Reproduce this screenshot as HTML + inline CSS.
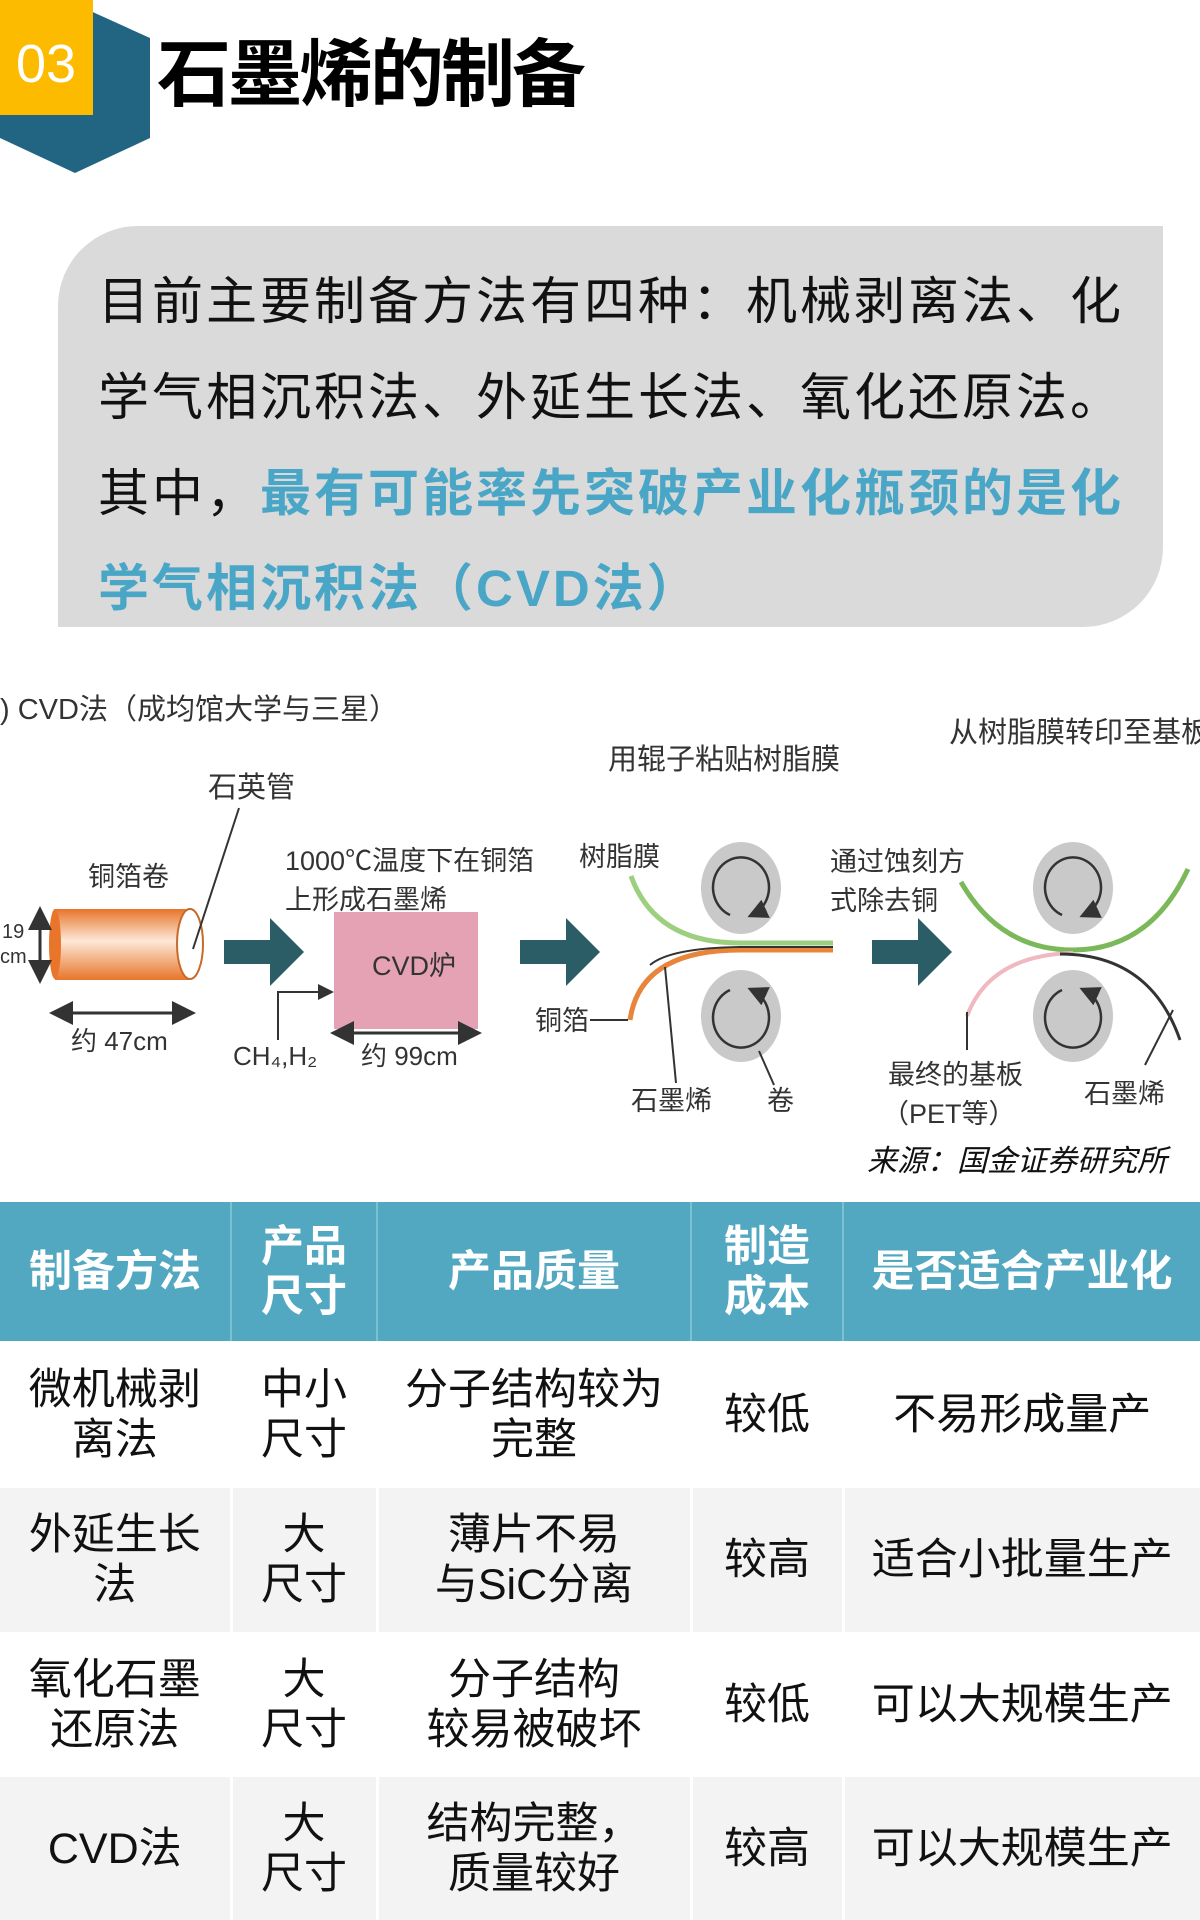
<!DOCTYPE html>
<html><head><meta charset="utf-8"><style>
*{margin:0;padding:0;box-sizing:border-box}
body{width:1200px;height:1920px;background:#fff;position:relative;overflow:hidden;font-family:"Liberation Sans","Noto Sans CJK SC",sans-serif}
.abs{position:absolute}
.title{left:157px;top:30px;font-size:74px;font-weight:bold;color:#000;line-height:90px;letter-spacing:-3px}
.box{left:58px;top:226px;width:1105px;height:401px;background:#dadada;border-radius:80px 0 80px 0}
.line{position:absolute;left:98px;font-size:51px;line-height:60px;color:#111;white-space:nowrap;letter-spacing:3px}
.hl{color:#4aa6c6;font-weight:bold}
table{position:absolute;left:0;top:1202px;width:1200px;border-collapse:collapse}
td{text-align:center;vertical-align:middle;font-size:43px;line-height:50px;color:#111;border-left:3px solid #fff}
td:first-child{border-left:none}
tr.h td{background:#52a7c1;color:#fff;font-weight:bold;height:139px;border-left:2px solid #7cc0d4}
tr.h td:first-child{border-left:none}
tr.g td{background:#f3f3f3}
</style></head><body>
<svg class="abs" style="left:0;top:0" width="160" height="180"><polygon points="0,38 75,4 150,38 150,138 75,173 0,138" fill="#226582"/><rect x="0" y="0" width="93" height="115" fill="#fdbb00"/><text x="46" y="82" font-size="54" fill="#fff" text-anchor="middle" font-family="Liberation Sans,sans-serif">03</text></svg>
<div class="abs title">石墨烯的制备</div>
<div class="abs box"></div>
<div class="line" style="top:272px">目前主要制备方法有四种：机械剥离法、化</div>
<div class="line" style="top:368px">学气相沉积法、外延生长法、氧化还原法。</div>
<div class="line" style="top:464px">其中，<span class="hl">最有可能率先突破产业化瓶颈的是化</span></div>
<div class="line" style="top:559px"><span class="hl">学气相沉积法（CVD法）</span></div>

<svg class="abs" style="left:0;top:0" width="1200" height="1200" font-family="Liberation Sans,Noto Sans CJK SC,sans-serif">
<defs>
<linearGradient id="cu" x1="0" y1="0" x2="0" y2="1"><stop offset="0" stop-color="#e8752a"/><stop offset="0.45" stop-color="#fde8d8"/><stop offset="1" stop-color="#e8752a"/></linearGradient>
<marker id="ah" markerWidth="8" markerHeight="8" refX="6" refY="4" orient="auto-start-reverse"><path d="M0,0 L8,4 L0,8 z" fill="#333"/></marker>
</defs>
<g fill="#333" font-size="29">
<text x="0" y="719">) CVD法（成均馆大学与三星）</text>
<text x="608" y="769">用辊子粘贴树脂膜</text>
<text x="949" y="742">从树脂膜转印至基板</text>
<text x="208" y="797">石英管</text>
<text x="88" y="886" font-size="27">铜箔卷</text>
<text x="2" y="938" font-size="20">19</text><text x="0" y="963" font-size="20">cm</text>
<text x="71" y="1050" font-size="26">约 47cm</text>
<text x="285" y="870" font-size="27">1000℃温度下在铜箔</text>
<text x="285" y="909" font-size="27">上形成石墨烯</text>
<text x="233" y="1065" font-size="26">CH₄,H₂</text>
<text x="361" y="1065" font-size="26">约 99cm</text>
<text x="579" y="866" font-size="27">树脂膜</text>
<text x="535" y="1030" font-size="27">铜箔</text>
<text x="631" y="1110" font-size="27">石墨烯</text>
<text x="767" y="1110" font-size="27">卷</text>
<text x="830" y="871" font-size="27">通过蚀刻方</text>
<text x="830" y="910" font-size="27">式除去铜</text>
<text x="888" y="1084" font-size="27">最终的基板</text>
<text x="882" y="1123" font-size="27">（PET等）</text>
<text x="1084" y="1103" font-size="27">石墨烯</text>
</g>
<text x="867" y="1171" font-size="30" font-style="italic" fill="#111">来源：国金证券研究所</text>
<rect x="55" y="909" width="135" height="71" fill="url(#cu)"/>
<ellipse cx="55" cy="944" rx="6" ry="35" fill="#e8752a"/>
<ellipse cx="190" cy="944" rx="13" ry="35" fill="#fff" stroke="#c86a2a" stroke-width="2"/>
<line x1="239" y1="808" x2="193" y2="949" stroke="#333" stroke-width="2"/>
<line x1="40" y1="912" x2="40" y2="978" stroke="#333" stroke-width="3" marker-start="url(#ah)" marker-end="url(#ah)"/>
<line x1="55" y1="1013" x2="190" y2="1013" stroke="#333" stroke-width="3" marker-start="url(#ah)" marker-end="url(#ah)"/>
<g fill="#2a5d66">
<polygon points="224,940 270,940 270,918 304,952 270,986 270,964 224,964"/>
<polygon points="520,940 566,940 566,918 600,952 566,986 566,964 520,964"/>
<polygon points="872,940 918,940 918,918 952,952 918,986 918,964 872,964"/>
</g>
<rect x="334" y="912" width="144" height="117" fill="#e5a2b5"/>
<text x="372" y="975" font-size="27" fill="#333">CVD炉</text>
<polyline points="278,1040 278,992 330,992" fill="none" stroke="#333" stroke-width="2" marker-end="url(#ah)"/>
<line x1="336" y1="1033" x2="476" y2="1033" stroke="#333" stroke-width="3" marker-start="url(#ah)" marker-end="url(#ah)"/>
<g fill="#c9c9c9">
<ellipse cx="741" cy="888" rx="40" ry="46"/><ellipse cx="741" cy="1016" rx="40" ry="46"/>
<ellipse cx="1073" cy="888" rx="40" ry="46"/><ellipse cx="1073" cy="1016" rx="40" ry="46"/>
</g>
<g fill="none" stroke="#333" stroke-width="2.5">
<path d="M730,915 A28,30 0 1 1 752,915" marker-end="url(#ah)"/>
<path d="M730,990 A28,30 0 1 0 752,990" marker-end="url(#ah)"/>
<path d="M1062,915 A28,30 0 1 1 1084,915" marker-end="url(#ah)"/>
<path d="M1062,990 A28,30 0 1 0 1084,990" marker-end="url(#ah)"/>
</g>
<path d="M631,876 Q655,943 740,943 L833,943" fill="none" stroke="#9ccf7e" stroke-width="5"/>
<path d="M630,1020 Q640,950 740,950 L833,950" fill="none" stroke="#e8853a" stroke-width="5"/>
<path d="M650,965 Q670,948 740,947 L833,947" fill="none" stroke="#333" stroke-width="2"/>
<line x1="590" y1="1020" x2="628" y2="1020" stroke="#333" stroke-width="2"/>
<line x1="676" y1="1083" x2="665" y2="967" stroke="#333" stroke-width="2"/>
<line x1="774" y1="1085" x2="759" y2="1051" stroke="#333" stroke-width="2"/>
<path d="M961,882 Q1000,950 1073,950 Q1150,950 1188,869" fill="none" stroke="#7ab85a" stroke-width="5"/>
<path d="M967,1016 Q990,955 1073,953" fill="none" stroke="#f0b8c0" stroke-width="4"/>
<path d="M1060,954 Q1150,954 1180,1040" fill="none" stroke="#333" stroke-width="3"/>
<line x1="967" y1="1050" x2="967" y2="1012" stroke="#333" stroke-width="2"/>
<line x1="1145" y1="1065" x2="1173" y2="1010" stroke="#333" stroke-width="2"/>
</svg>

<table>
<colgroup><col style="width:231px"><col style="width:146px"><col style="width:314px"><col style="width:152px"><col></colgroup>
<tr class="h"><td>制备方法</td><td>产品<br>尺寸</td><td>产品质量</td><td>制造<br>成本</td><td>是否适合产业化</td></tr>
<tr style="height:147px"><td>微机械剥<br>离法</td><td>中小<br>尺寸</td><td>分子结构较为<br>完整</td><td>较低</td><td>不易形成量产</td></tr>
<tr class="g" style="height:144px"><td>外延生长<br>法</td><td>大<br>尺寸</td><td>薄片不易<br>与SiC分离</td><td>较高</td><td>适合小批量生产</td></tr>
<tr style="height:145px"><td>氧化石墨<br>还原法</td><td>大<br>尺寸</td><td>分子结构<br>较易被破坏</td><td>较低</td><td>可以大规模生产</td></tr>
<tr class="g" style="height:143px"><td>CVD法</td><td>大<br>尺寸</td><td>结构完整，<br>质量较好</td><td>较高</td><td>可以大规模生产</td></tr>
</table>
</body></html>
